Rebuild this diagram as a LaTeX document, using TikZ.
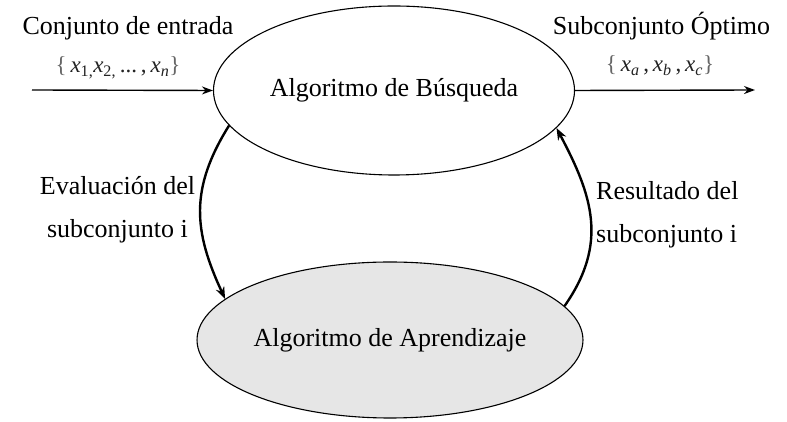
\documentclass[tikz,border=0pt]{standalone}
\usepackage{fontspec}
\setmainfont{Liberation Serif}
\usetikzlibrary{arrows.meta,shapes.geometric}
\definecolor{ellgray}{HTML}{E6E6E6}
\definecolor{settext}{HTML}{222222}
\definecolor{bracegray}{HTML}{666666}
\begin{document}
\begin{tikzpicture}[x=1pt,y=1pt,
  bigtext/.style={font=\fontsize{26}{30}\selectfont, inner sep=0pt},
  settxt/.style={font=\fontsize{23}{26}\selectfont, inner sep=0pt, text=settext},
  algbox/.style={ellipse, draw=black, line width=1.1pt, inner sep=0pt, font=\fontsize{26}{30}\selectfont},
  flow/.style={line width=1.4pt, -{Stealth[length=11pt,width=8pt]}},
  loop/.style={line width=2.4pt, -{Stealth[length=12pt,width=9pt]}}]
\useasboundingbox (0,0) rectangle (787,422);
\fill[white] (0,0) rectangle (787,422);
\node[algbox, minimum width=361pt, minimum height=169pt] (busq) at (394,331.5) {Algoritmo de Búsqueda};
\node[algbox, fill=ellgray, minimum width=360pt, minimum height=156pt] (apr) at (390,82) {Algoritmo de Aprendizaje};
\coordinate (inp) at (32,332);
\coordinate (outp) at (755,332);
\draw[flow] (inp) -- (busq.west);
\draw[flow] (busq.east) -- (outp);
\node[bigtext, anchor=base] (tin) at (128,387) {Conjunto de entrada};
\node[bigtext, anchor=base] (tout) at (661.5,387) {Subconjunto Óptimo};
\node[settxt, anchor=base] (sin) at (118,349) {\textcolor{bracegray}{\{}\,\textit{x}\textsubscript{1,}\textit{x}\textsubscript{2,}\,...\,,\,\textit{x}\textsubscript{\textit{n}}\textcolor{bracegray}{\}}};
\node[settxt, anchor=base] (sout) at (660,350) {\textcolor{bracegray}{\{}\,\textit{x}\textsubscript{\textit{a}}\,,\,\textit{x}\textsubscript{\textit{b}}\,,\,\textit{x}\textsubscript{\textit{c}}\textcolor{bracegray}{\}}};
\draw[loop] (busq.192.9) to[out=238, in=115, looseness=1.1] (apr.166.9);
\draw[loop] (apr.11.3) to[out=55, in=-62, looseness=1.1] (busq.-13);
\node[bigtext, anchor=base] (ev1) at (117.5,227) {Evaluación del};
\node[bigtext, anchor=base] (ev2) at (117.5,184) {subconjunto i};
\node[bigtext, anchor=base west] (re1) at (596,222) {Resultado del};
\node[bigtext, anchor=base west] (re2) at (596,179) {subconjunto i};
\end{tikzpicture}
\end{document}
